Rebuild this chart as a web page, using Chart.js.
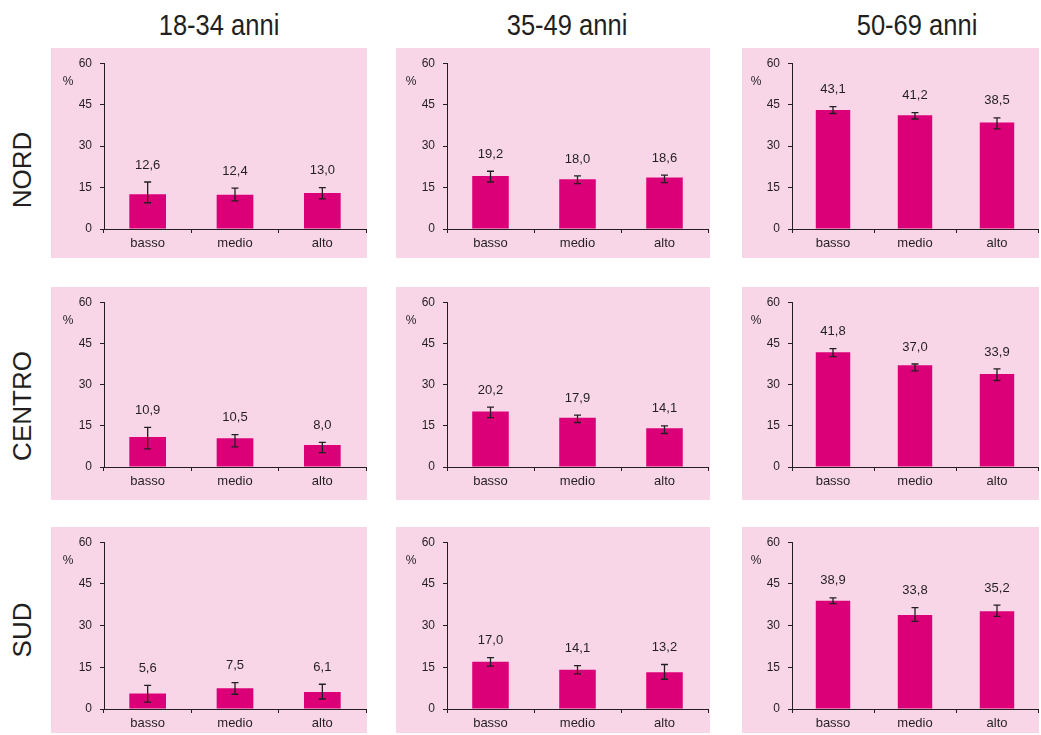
<!DOCTYPE html>
<html>
<head>
<meta charset="utf-8">
<script src="https://cdn.jsdelivr.net/npm/chart.js@4.4.1/dist/chart.umd.min.js"></script>
<style>
  html, body { margin: 0; padding: 0; background: #ffffff; }
  #page { position: relative; width: 1041px; height: 735px; overflow: hidden; }
  .panel { position: absolute; background: #F8D6E8; }
  .panel canvas { position: absolute; left: 0; top: 0; }
  .coltitle {
    position: absolute; top: 8px; width: 240px; text-align: center;
    font-family: "Liberation Sans", Arial, sans-serif;
    font-size: 29px; line-height: 34px; color: #231F20;
    transform: scaleX(0.88); transform-origin: 50% 50%;
  }
  .rowlabel {
    position: absolute; width: 200px; height: 30px; line-height: 30px; text-align: center;
    font-family: "Liberation Sans", Arial, sans-serif; font-size: 26px; color: #231F20;
    transform: rotate(-90deg);
  }
</style>
</head>
<body>
<div id="page"></div>
<script>
// Age groups (columns), geographic areas (rows), education levels (categories)
const ageGroups = ['18-34 anni', '35-49 anni', '50-69 anni'];
const areas = ['NORD', 'CENTRO', 'SUD'];
const levels = ['basso', 'medio', 'alto'];
const yTicks = [0, 15, 30, 45, 60];

// Prevalence (%) by education level, one inner array per age group
const nordValues   = [[12.6, 12.4, 13.0], [19.2, 18.0, 18.6], [43.1, 41.2, 38.5]];
const centroValues = [[10.9, 10.5, 8.0],  [20.2, 17.9, 14.1], [41.8, 37.0, 33.9]];
const sudValues    = [[5.6, 7.5, 6.1],    [17.0, 14.1, 13.2], [38.9, 33.8, 35.2]];

// 95% confidence interval bounds
const nordLow    = [[9.5, 10.2, 10.9],  [17.0, 16.4, 16.8], [41.8, 39.8, 36.2]];
const nordHigh   = [[17.0, 14.8, 15.0], [20.9, 19.2, 19.5], [44.3, 42.1, 40.2]];
const centroLow  = [[6.6, 7.3, 5.2],    [18.0, 16.2, 12.2], [40.2, 35.0, 31.5]];
const centroHigh = [[14.4, 11.8, 9.0],  [21.8, 18.9, 15.0], [43.1, 37.5, 35.7]];
const sudLow     = [[2.5, 5.3, 3.6],    [15.4, 12.6, 10.7], [37.9, 31.5, 33.3]];
const sudHigh    = [[8.5, 9.5, 8.9],    [18.5, 15.6, 16.0], [40.0, 36.5, 37.4]];

const valuesByArea = [nordValues, centroValues, sudValues];
const lowByArea = [nordLow, centroLow, sudLow];
const highByArea = [nordHigh, centroHigh, sudHigh];

// Panel geometry
const colLeft  = [51, 396, 742];
const colRight = [367, 710, 1039];
const axisX    = [104, 447, 792];
const axisEnd  = [366, 708, 1038];
const rowTop    = [48, 287, 527];
const rowBottom = [258, 500, 733];
const plotTop   = [60, 298, 540];
const plotZero  = [229, 467, 709];
const titleCenter = [219, 567, 917];
const rowLabelCenter = [170, 406, 630];

const INK = '#231F20';
const BAR = '#DC0078';
const FONT = '"Liberation Sans", Arial, sans-serif';

function fmt(v) { return v.toFixed(1).replace('.', ','); }

// Draws confidence-interval whiskers, value labels and the "%" unit marker
const annotatePlugin = {
  id: 'annotate',
  afterDatasetsDraw(chart) {
    const o = chart.options.plugins.annotate;
    const ctx = chart.ctx;
    const xs = chart.scales.x, ys = chart.scales.y;
    ctx.save();
    ctx.strokeStyle = INK;
    ctx.lineWidth = 1.3;
    o.values.forEach((v, i) => {
      const x = xs.getPixelForValue(i);
      const yl = ys.getPixelForValue(o.low[i]);
      const yh = ys.getPixelForValue(o.high[i]);
      ctx.beginPath();
      ctx.moveTo(x, yl); ctx.lineTo(x, yh);
      ctx.moveTo(x - 3.5, yl); ctx.lineTo(x + 3.5, yl);
      ctx.moveTo(x - 3.5, yh); ctx.lineTo(x + 3.5, yh);
      ctx.stroke();
      ctx.fillStyle = INK;
      ctx.font = '13px ' + FONT;
      ctx.textAlign = 'center';
      ctx.textBaseline = 'middle';
      ctx.fillText(fmt(v), x, yh - 17);
    });
    ctx.font = '12px ' + FONT;
    ctx.textAlign = 'center';
    ctx.textBaseline = 'middle';
    ctx.fillStyle = INK;
    ctx.fillText('%', chart.chartArea.left - 36, chart.chartArea.top + 18);
    ctx.restore();
  }
};

const page = document.getElementById('page');

ageGroups.forEach((g, c) => {
  const t = document.createElement('div');
  t.className = 'coltitle';
  t.textContent = g;
  t.style.left = (titleCenter[c] - 120) + 'px';
  page.appendChild(t);
});

areas.forEach((a, r) => {
  const l = document.createElement('div');
  l.className = 'rowlabel';
  l.textContent = a;
  l.style.left = (22 - 100) + 'px';
  l.style.top = (rowLabelCenter[r] - 15) + 'px';
  page.appendChild(l);
});

for (let r = 0; r < 3; r++) {
  for (let c = 0; c < 3; c++) {
    const w = colRight[c] - colLeft[c];
    const h = rowBottom[r] - rowTop[r];
    const div = document.createElement('div');
    div.className = 'panel';
    div.style.left = colLeft[c] + 'px';
    div.style.top = rowTop[r] + 'px';
    div.style.width = w + 'px';
    div.style.height = h + 'px';
    const cv = document.createElement('canvas');
    cv.width = w; cv.height = h;
    cv.style.width = w + 'px'; cv.style.height = h + 'px';
    div.appendChild(cv);
    page.appendChild(div);

    const vals = valuesByArea[r][c];
    const yAxisWidth = axisX[c] - colLeft[c];
    const xAxisHeight = rowBottom[r] - plotZero[r];

    new Chart(cv, {
      type: 'bar',
      data: {
        labels: levels,
        datasets: [{
          data: vals,
          backgroundColor: BAR,
          borderWidth: 0,
          barPercentage: 0.42,
          categoryPercentage: 1.0
        }]
      },
      options: {
        responsive: false,
        animation: false,
        events: [],
        layout: {
          padding: {
            top: plotTop[r] - rowTop[r],
            right: colRight[c] - axisEnd[c],
            left: 0,
            bottom: 0
          }
        },
        plugins: {
          legend: { display: false },
          tooltip: { enabled: false },
          annotate: { values: vals, low: lowByArea[r][c], high: highByArea[r][c] }
        },
        scales: {
          x: {
            afterFit(s) { s.height = xAxisHeight; },
            grid: { drawOnChartArea: false, drawTicks: true, tickLength: 4, color: INK, offset: true },
            border: { color: INK, width: 1 },
            ticks: { color: INK, font: { family: FONT, size: 13 }, padding: 3, maxRotation: 0 }
          },
          y: {
            min: 0, max: 60,
            afterFit(s) { s.width = yAxisWidth; },
            afterBuildTicks(s) { s.ticks = yTicks.map(v => ({ value: v })); },
            grid: { drawOnChartArea: false, drawTicks: true, tickLength: 4, color: INK },
            border: { color: INK, width: 1 },
            ticks: { color: INK, font: { family: FONT, size: 12 }, padding: 8 }
          }
        }
      },
      plugins: [annotatePlugin]
    });
  }
}
</script>
</body>
</html>
